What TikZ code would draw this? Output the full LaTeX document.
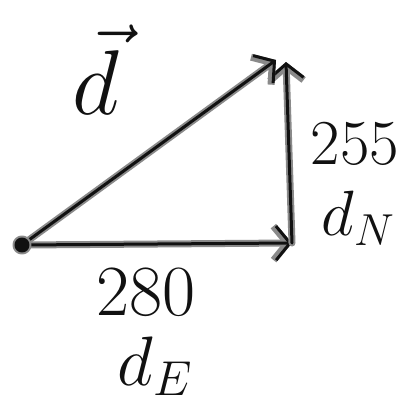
\documentclass[tikz,border=0pt]{standalone}
\usepackage{fix-cm}
\usepackage{amsmath}
\usetikzlibrary{arrows.meta}
\tikzset{>={Straight Barb[length=14pt,width=34pt]}}
\definecolor{ink}{HTML}{111111}
\definecolor{halo}{HTML}{8A8A8A}
\tikzset{
  pen/.style={draw=ink, line width=3pt, line cap=round, line join=round,
    preaction={draw=halo, line width=7pt, line cap=round, line join=round}},
  word/.style={inner sep=0pt, text=ink, font=\fontsize{64}{64}\selectfont}
}

\begin{document}
\begin{tikzpicture}[x=1pt,y=-1pt]

  \useasboundingbox (0,0) rectangle (404,407); %% page size

  \coordinate (o) at (22,245);
  \coordinate (e) at (292,243);
  \coordinate (n) at (286,62);
  \coordinate (tip) at (276,60);

  %% the three sides
  \draw[pen,->] (o) -- (e);
  \draw[pen,->] (e) -- (n);
  \draw[pen,->] (o) -- (tip);

  %% start point
  \draw[pen, fill=ink] (o) circle (6pt);

  \node[word, font=\fontsize{92}{92}\selectfont] (dvec) at (96,70) {$\vec{d}$};
  \node[word] (dy) at (355,144) {255};
  \node[word] (dn) at (358,218) {$d_N$};
  \node[word, font=\fontsize{72}{72}\selectfont] (dx) at (146,292) {280};
  \node[word, font=\fontsize{70}{70}\selectfont] (de) at (155,366) {$d_E$};

\end{tikzpicture}
\end{document}
